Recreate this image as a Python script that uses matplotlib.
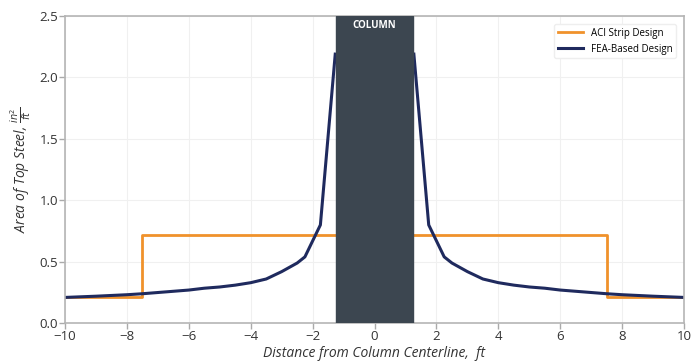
import matplotlib
matplotlib.use("Agg")
import matplotlib.pyplot as plt

plt.rcParams['font.family'] = ['Open Sans', 'DejaVu Sans']

# ACI strip design (step)
aci_x = [-10, -7.5, -7.5, 7.5, 7.5, 10]
aci_y = [0.215, 0.215, 0.72, 0.72, 0.215, 0.215]

# FEA-based design, left half (mirrored for the right side)
fea_left_x = [-10, -9, -8, -7.5, -7, -6.5, -6, -5.5, -5, -4.5, -4, -3.5, -3, -2.5, -2.25, -1.75, -1.27]
fea_left_y = [0.21, 0.22, 0.232, 0.24, 0.25, 0.26, 0.27, 0.285, 0.295, 0.31, 0.33, 0.36, 0.42, 0.49, 0.54, 0.80, 2.19]

fea_x = fea_left_x + [-v for v in reversed(fea_left_x)]
fea_y = fea_left_y + list(reversed(fea_left_y))

column_half = 1.25

fig = plt.figure(figsize=(6.94, 3.64), dpi=100)
ax = fig.add_axes([0.0937, 0.112, 0.892, 0.844])

# column band split so the curve can stop at its faces
ax.axvspan(-column_half, column_half, color='#3c4650', zorder=3)
ax.text(0, 2.47, 'COLUMN', color='white', ha='center', va='top',
        fontsize=7, fontweight='bold', zorder=4)

ax.plot(aci_x[:3] + [-column_half], aci_y[:3] + [0.72], color='#f0922b', lw=2, zorder=2,
        label='ACI Strip Design')
ax.plot([column_half] + aci_x[3:], [0.72] + aci_y[3:], color='#f0922b', lw=2, zorder=2)

n = len(fea_left_x)
ax.plot(fea_x[:n], fea_y[:n], color='#1f2a5e', lw=2.2, zorder=2, label='FEA-Based Design')
ax.plot(fea_x[n:], fea_y[n:], color='#1f2a5e', lw=2.2, zorder=2)

ax.set_xlim(-10, 10)
ax.set_ylim(0, 2.5)
ax.set_xticks(range(-10, 11, 2))
ax.set_yticks([0, 0.5, 1.0, 1.5, 2.0, 2.5])
ax.set_yticklabels(['0.0', '0.5', '1.0', '1.5', '2.0', '2.5'])
ax.set_xticklabels(['\u221210', '\u22128', '\u22126', '\u22124', '\u22122', '0', '2', '4', '6', '8', '10'])
ax.tick_params(labelsize=9.5, colors='#333333', length=4, width=1, color='#aaaaaa', pad=1)
ax.grid(True, color='#f0f0f0', lw=0.8, zorder=0)
for s in ax.spines.values():
    s.set_color('#b5b5b5')
    s.set_linewidth(1.2)

ax.set_xlabel('Distance from Column Centerline,  ft', fontsize=10, style='italic', color='#333333', labelpad=2)
ax.set_ylabel(r'Area of Top Steel, $\frac{in^2}{ft}$', fontsize=10, style='italic', color='#333333', labelpad=4)

ax.legend(loc='upper right', fontsize=7, frameon=True, edgecolor='#eeeeee', framealpha=1,
          handlelength=2.6, borderaxespad=0.8)

fig.savefig('out.png', dpi=100)
